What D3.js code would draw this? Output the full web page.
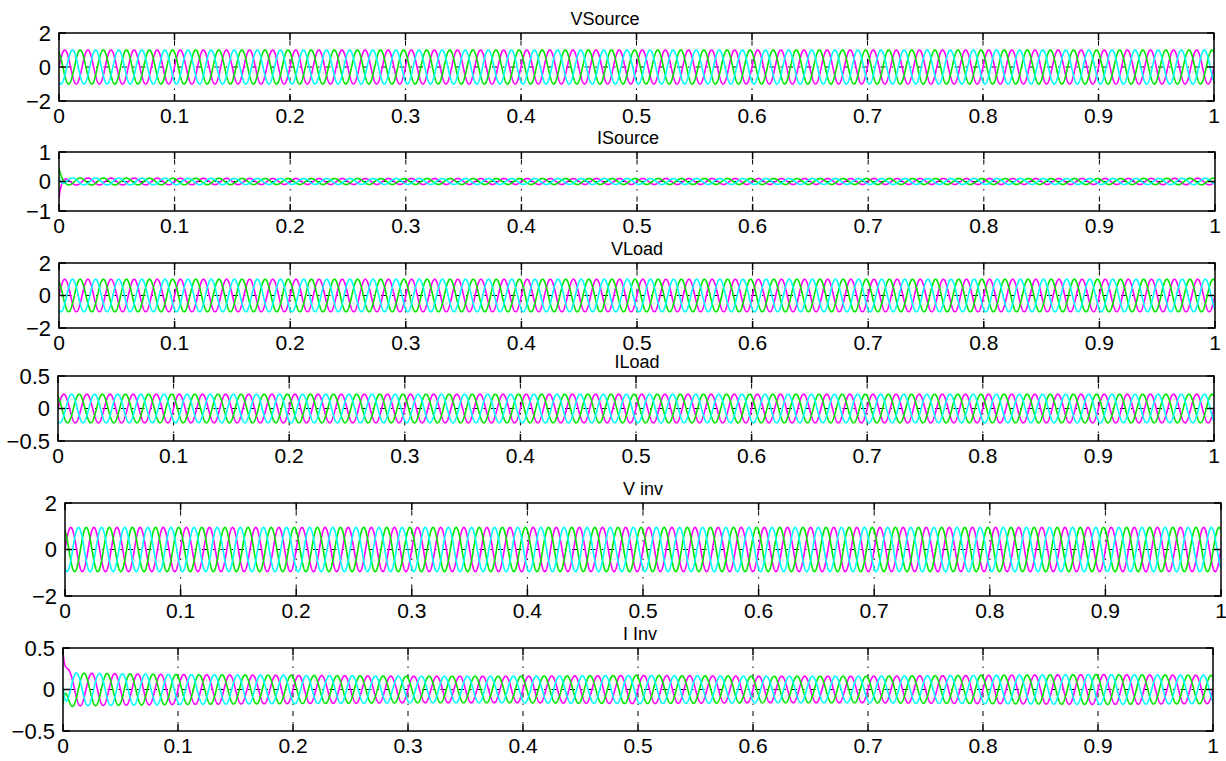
<!DOCTYPE html>
<html>
<head>
<meta charset="utf-8">
<script src="https://cdn.jsdelivr.net/npm/d3@7"></script>
<style>
  body { margin: 0; background: #fff; }
  svg { display: block; font-family: "Liberation Sans", Arial, sans-serif; }
  .grid line { stroke: #000; stroke-width: 1; stroke-dasharray: 1.5 6 5 6; }
</style>
</head>
<body>
<svg width="1226" height="761"></svg>
<script>
// panel titles and axes
var titles = ["VSource", "ISource", "VLoad", "ILoad", "V inv", "I Inv"];
var yDomains = [[-2, 2], [-1, 1], [-2, 2], [-0.5, 0.5], [-2, 2], [-0.5, 0.5]];
var yTicks = [[-2, 0, 2], [-1, 0, 1], [-2, 0, 2], [-0.5, 0, 0.5], [-2, 0, 2], [-0.5, 0, 0.5]];
var xTicks = [0, 0.1, 0.2, 0.3, 0.4, 0.5, 0.6, 0.7, 0.8, 0.9, 1];

// three phases: magenta, green, cyan (phase shift in degrees)
var phaseColors = ["#ff00ff", "#00e600", "#00ffff"];
var phaseShift = [0, 120, -120];
var freqHz = 50;

// peak amplitude of each panel, read at every 0.1 s
var envTimes = [0, 0.1, 0.2, 0.3, 0.4, 0.5, 0.6, 0.7, 0.8, 0.9, 1];
var vSourceAmp = [1, 1, 1, 1, 1, 1, 1, 1, 1, 1, 1];
var iSourceAmp = [0.12, 0.11, 0.1, 0.1, 0.1, 0.1, 0.1, 0.1, 0.1, 0.1, 0.11];
var vLoadAmp = [1, 1, 1, 1, 1, 1, 1, 1, 1, 1, 1];
var iLoadAmp = [0.22, 0.22, 0.22, 0.22, 0.22, 0.22, 0.22, 0.22, 0.22, 0.22, 0.22];
var vInvAmp = [0.95, 0.95, 0.95, 0.95, 0.95, 0.95, 0.95, 0.95, 0.95, 0.95, 0.95];
var iInvAmp = [0.2, 0.18, 0.17, 0.16, 0.16, 0.17, 0.16, 0.16, 0.17, 0.18, 0.17];
var amps = [vSourceAmp, iSourceAmp, vLoadAmp, iLoadAmp, vInvAmp, iInvAmp];

// start-up transient (value at t=0 per phase, decaying)
var startOffset = [
  [0, 0, 0],
  [-0.55, 0.35, 0.25],
  [0, 0, 0],
  [0, 0, 0],
  [0, 0, 0],
  [0.45, -0.35, 0.2]
];

// where each axes box sits on the page
var boxes = [
  {x0: 59, x1: 1214, y0: 33, y1: 101, tx: 605},
  {x0: 59, x1: 1215, y0: 152, y1: 211, tx: 628},
  {x0: 59, x1: 1215, y0: 263, y1: 328, tx: 637},
  {x0: 58, x1: 1214, y0: 376, y1: 441, tx: 637},
  {x0: 65, x1: 1221, y0: 503, y1: 596, tx: 643},
  {x0: 63, x1: 1213, y0: 648, y1: 731, tx: 640}
];

var svg = d3.select("svg");
var dt = 0.0002;
var times = d3.range(0, 1 + dt / 2, dt);

titles.forEach(function (title, p) {
  var b = boxes[p];
  var x = d3.scaleLinear().domain([0, 1]).range([b.x0, b.x1]);
  var y = d3.scaleLinear().domain(yDomains[p]).range([b.y1, b.y0]);
  var env = d3.scaleLinear().domain(envTimes).range(amps[p]);
  var g = svg.append("g");

  g.append("defs").append("clipPath").attr("id", "clip" + p)
    .append("rect").attr("x", b.x0).attr("y", b.y0)
    .attr("width", b.x1 - b.x0).attr("height", b.y1 - b.y0);

  // grid
  var grid = g.append("g").attr("class", "grid");
  grid.selectAll(".gx").data(xTicks.slice(1, -1)).enter().append("line")
    .attr("x1", function (d) { return x(d); }).attr("x2", function (d) { return x(d); })
    .attr("y1", b.y0).attr("y2", b.y1);
  grid.selectAll(".gy").data(yTicks[p].slice(1, -1)).enter().append("line")
    .attr("x1", b.x0).attr("x2", b.x1)
    .attr("y1", function (d) { return y(d); }).attr("y2", function (d) { return y(d); });

  // waveforms
  var line = d3.line().x(function (d) { return x(d[0]); }).y(function (d) { return y(d[1]); });
  var wg = g.append("g").attr("clip-path", "url(#clip" + p + ")");
  phaseColors.forEach(function (c, k) {
    var pts = times.map(function (t) {
      var w = 2 * Math.PI * freqHz * t + phaseShift[k] * Math.PI / 180;
      var v = env(t) * Math.sin(w) + startOffset[p][k] * Math.exp(-t / 0.002);
      return [t, v];
    });
    wg.append("path").datum(pts).attr("d", line)
      .attr("fill", "none").attr("stroke", c).attr("stroke-width", 1.6);
  });

  // box
  g.append("rect").attr("x", b.x0).attr("y", b.y0)
    .attr("width", b.x1 - b.x0).attr("height", b.y1 - b.y0)
    .attr("fill", "none").attr("stroke", "#000").attr("stroke-width", 1.5);

  // inward ticks
  var tk = g.append("g").attr("stroke", "#000").attr("stroke-width", 1.5);
  xTicks.forEach(function (d) {
    tk.append("line").attr("x1", x(d)).attr("x2", x(d)).attr("y1", b.y1).attr("y2", b.y1 - 7);
    tk.append("line").attr("x1", x(d)).attr("x2", x(d)).attr("y1", b.y0).attr("y2", b.y0 + 7);
  });
  yTicks[p].forEach(function (d) {
    tk.append("line").attr("x1", b.x0).attr("x2", b.x0 + 7).attr("y1", y(d)).attr("y2", y(d));
    tk.append("line").attr("x1", b.x1).attr("x2", b.x1 - 7).attr("y1", y(d)).attr("y2", y(d));
  });

  // tick labels
  g.selectAll(".xl").data(xTicks).enter().append("text")
    .attr("x", function (d) { return x(d); }).attr("y", b.y1 + 22)
    .attr("text-anchor", "middle").attr("font-size", 21)
    .text(function (d) { return d3.format("~g")(d); });
  g.selectAll(".yl").data(yTicks[p]).enter().append("text")
    .attr("x", b.x0 - 8).attr("y", function (d) { return y(d); })
    .attr("dy", "0.36em").attr("text-anchor", "end").attr("font-size", 22)
    .text(function (d) { return d3.format("~g")(d); });

  // title
  g.append("text").attr("x", b.tx).attr("y", b.y0 - 8)
    .attr("text-anchor", "middle").attr("font-size", 18).text(title);
});
</script>
</body>
</html>
